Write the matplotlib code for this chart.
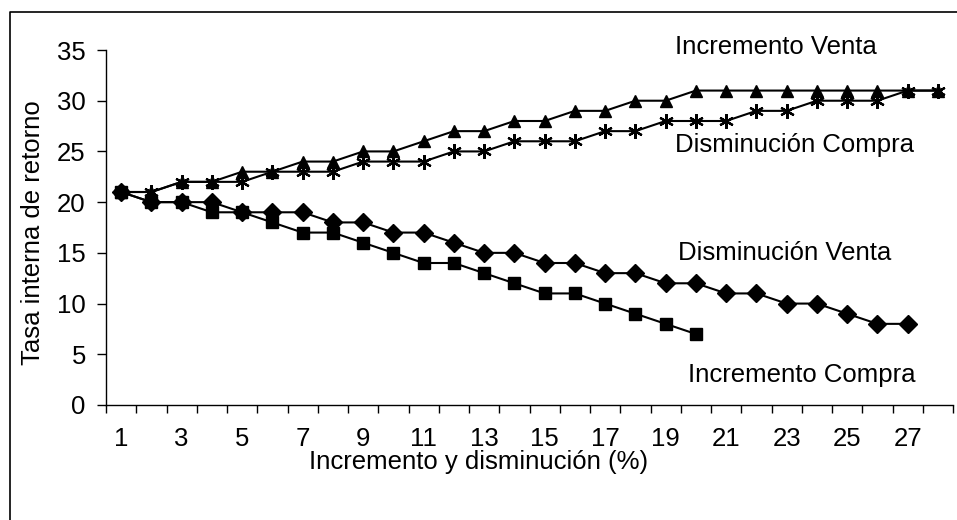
import matplotlib
matplotlib.use("Agg")
import matplotlib.pyplot as plt
from matplotlib.lines import Line2D

plt.rcParams['font.family'] = ['Liberation Sans', 'DejaVu Sans']

# Internal rate of return vs. percentage change
pct = list(range(1, 29))
incremento_venta = [21, 21, 22, 22, 23, 23, 24, 24, 25, 25, 26, 27, 27, 28,
                    28, 29, 29, 30, 30, 31, 31, 31, 31, 31, 31, 31, 31, 31]
disminucion_compra = [21, 21, 22, 22, 22, 23, 23, 23, 24, 24, 24, 25, 25, 26,
                      26, 26, 27, 27, 28, 28, 28, 29, 29, 30, 30, 30, 31, 31]
disminucion_venta = [21, 20, 20, 20, 19, 19, 19, 18, 18, 17, 17, 16, 15, 15,
                     14, 14, 13, 13, 12, 12, 11, 11, 10, 10, 9, 8, 8]
incremento_compra = [21, 20, 20, 19, 19, 18, 17, 17, 16, 15, 14, 14, 13, 12,
                     11, 11, 10, 9, 8, 7]
x_labels = [str(v) for v in range(1, 28, 2)]
y_ticks = [0, 5, 10, 15, 20, 25, 30, 35]

FS = 18.5
W, H = 957, 520
fig = plt.figure(figsize=(W / 100, H / 100), dpi=100)
ax = fig.add_axes([106 / W, 1 - 405 / H, (953 - 106) / W, (405 - 50) / H])

kw = dict(color='black', linewidth=1.5)
ax.plot(pct[:len(incremento_compra)], incremento_compra, marker='s',
        markersize=8, **kw)
ax.plot(pct[:len(disminucion_venta)], disminucion_venta, marker='D',
        markersize=9, **kw)
ax.plot(pct, incremento_venta, marker='^', markersize=9, **kw)
ax.plot(pct, disminucion_compra, marker=(6, 2, 0), markersize=10.5,
        markeredgewidth=1.6, **kw)

ax.set_xlim(0.5, 28.5)
ax.set_ylim(0, 35)
ax.spines['top'].set_visible(False)
ax.spines['right'].set_visible(False)
for s in ('left', 'bottom'):
    ax.spines[s].set_linewidth(1.0)

# category boundaries carry the tick marks, odd categories carry labels
ax.set_xticks([i + 0.5 for i in range(0, 29)])
ax.set_xticklabels([])
ax.set_xticks(list(range(1, 28, 2)), minor=True)
ax.set_xticklabels(x_labels, minor=True)
ax.tick_params(axis='x', which='major', direction='out', length=5.5, width=1.0)
ax.tick_params(axis='x', which='minor', length=0, pad=16, labelsize=FS)
ax.set_yticks(y_ticks)
ax.tick_params(axis='y', direction='out', length=6.5, width=1.0, pad=8,
               labelsize=FS)

fig.text(479 / W, 1 - 462 / H, 'Incremento y disminución (%)', fontsize=FS,
         ha='center', va='center')
fig.text(33 / W, 1 - 233 / H, 'Tasa interna de retorno', fontsize=FS,
         ha='center', va='center', rotation=90)

ax.text(19.3, 35.3, 'Incremento Venta', fontsize=FS, va='center', ha='left',
        clip_on=False)
ax.text(19.3, 25.6, 'Disminución Compra', fontsize=FS, va='center', ha='left')
ax.text(19.41, 15.0, 'Disminución Venta', fontsize=FS, va='center', ha='left')
ax.text(19.74, 2.96, 'Incremento Compra', fontsize=FS, va='center', ha='left')

# outer frame
fig.add_artist(Line2D([10 / W, 10 / W, 1.0], [0.0, 1 - 12 / H, 1 - 12 / H],
                      transform=fig.transFigure, color='black', linewidth=1.2))

fig.savefig('out.png', dpi=100)
